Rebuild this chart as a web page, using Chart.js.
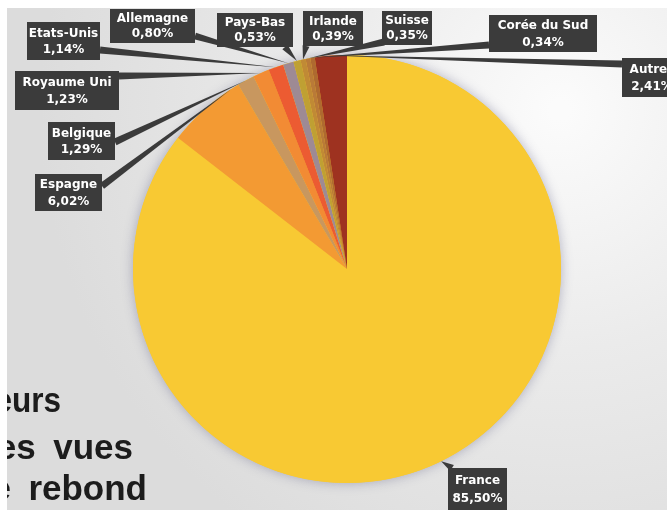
<!DOCTYPE html>
<html>
<head>
<meta charset="utf-8">
<script src="https://cdn.jsdelivr.net/npm/chart.js@4/dist/chart.umd.min.js"></script>
<style>
html, body { margin: 0; padding: 0; background: #ffffff; }
#canvas { display: block; }
</style>
</head>
<body>
<canvas id="canvas" width="667" height="510"></canvas>
<script>
var countries = ['France', 'Espagne', 'Belgique', 'Royaume Uni', 'Etats-Unis', 'Allemagne',
                 'Pays-Bas', 'Irlande', 'Suisse', 'Corée du Sud', 'Autres'];
var shares = [85.50, 6.02, 1.29, 1.23, 1.14, 0.80, 0.53, 0.39, 0.35, 0.34, 2.41];
var shareLabels = ['85,50%', '6,02%', '1,29%', '1,23%', '1,14%', '0,80%',
                   '0,53%', '0,39%', '0,35%', '0,34%', '2,41%'];
var sliceColors = ['#F8C933', '#F39A33', '#C8975F', '#F28B34', '#EC5B32', '#9E8A94',
                   '#BFA033', '#C08A35', '#B97A38', '#AE6A30', '#9E3220'];
var sideText = ['eurs', 'es\u2002vues', 'e\u2002rebond'];

// callout boxes: x, y, w, h, anchor of the leader, where on the slice it points (0..1)
var callouts = [
    {x: 448, y: 468, w: 59, h: 42, ax: 452, ay: 468, f: 0.5},
    {x: 35, y: 174, w: 67, h: 37, ax: 102, ay: 186, f: 0.9},
    {x: 48, y: 122, w: 67, h: 38, ax: 115, ay: 142, f: 0.5},
    {x: 15, y: 71, w: 104, h: 39, ax: 119, ay: 76, f: 0.5},
    {x: 27, y: 22, w: 73, h: 38, ax: 100, ay: 50, f: 0.5},
    {x: 110, y: 9, w: 85, h: 34, ax: 195, ay: 36, f: 0.5},
    {x: 217, y: 13, w: 76, h: 34, ax: 285, ay: 47, f: 0.5},
    {x: 303, y: 11, w: 60, h: 35, ax: 306, ay: 46, f: 0.5},
    {x: 382, y: 11, w: 50, h: 34, ax: 384, ay: 42, f: 0.5},
    {x: 489, y: 15, w: 108, h: 37, ax: 489, ay: 45, f: 0.5},
    {x: 622, y: 58, w: 60, h: 39, ax: 622, ay: 64, f: 0.5}
];

var backgroundPlugin = {
    id: 'backgroundPlugin',
    beforeDraw: function(chart) {
        var ctx = chart.ctx;
        ctx.save();
        var g = ctx.createRadialGradient(560, 110, 10, 560, 110, 520);
        g.addColorStop(0, '#fbfbfb');
        g.addColorStop(0.45, '#ebebeb');
        g.addColorStop(1, '#dcdcdc');
        ctx.fillStyle = g;
        ctx.fillRect(0, 0, chart.width, chart.height);
        ctx.fillStyle = '#ffffff';
        ctx.fillRect(0, 0, chart.width, 8);
        ctx.fillRect(0, 0, 7, chart.height);
        ctx.restore();
    },
    beforeDatasetsDraw: function(chart) {
        var arc = chart.getDatasetMeta(0).data[0];
        var ctx = chart.ctx;
        ctx.save();
        ctx.shadowColor = 'rgba(80, 80, 120, 0.4)';
        ctx.shadowBlur = 12;
        ctx.fillStyle = '#F8C933';
        ctx.beginPath();
        ctx.arc(arc.x, arc.y, arc.outerRadius, 0, Math.PI * 2);
        ctx.fill();
        ctx.restore();
    }
};

var calloutPlugin = {
    id: 'calloutPlugin',
    afterDatasetsDraw: function(chart) {
        var ctx = chart.ctx;
        var arcs = chart.getDatasetMeta(0).data;
        ctx.save();

        // leaders first, boxes on top
        for (var i = 0; i < callouts.length; i++) {
            var c = callouts[i];
            var a = arcs[i];
            var ang = a.startAngle + (a.endAngle - a.startAngle) * c.f;
            var tx = a.x + Math.cos(ang) * a.outerRadius;
            var ty = a.y + Math.sin(ang) * a.outerRadius;
            var dx = tx - c.ax, dy = ty - c.ay;
            var len = Math.sqrt(dx * dx + dy * dy);
            var nx = -dy / len * 3.5, ny = dx / len * 3.5;
            ctx.fillStyle = '#3b3b3b';
            ctx.beginPath();
            ctx.moveTo(c.ax + nx, c.ay + ny);
            ctx.lineTo(c.ax - nx, c.ay - ny);
            ctx.lineTo(tx, ty);
            ctx.closePath();
            ctx.fill();
        }

        ctx.textAlign = 'center';
        ctx.textBaseline = 'middle';
        ctx.font = 'bold 12px "DejaVu Sans"';
        for (i = 0; i < callouts.length; i++) {
            c = callouts[i];
            ctx.fillStyle = '#3b3b3b';
            ctx.fillRect(c.x, c.y, c.w, c.h);
            ctx.fillStyle = '#ffffff';
            ctx.fillText(countries[i], c.x + c.w / 2, c.y + c.h * 0.3);
            ctx.fillText(shareLabels[i], c.x + c.w / 2, c.y + c.h * 0.74);
        }

        // text cut off at the left edge
        ctx.fillStyle = '#1c1c1c';
        ctx.font = 'bold 35px "Liberation Sans"';
        ctx.textAlign = 'right';
        ctx.textBaseline = 'alphabetic';
        var rightEdges = [61, 133, 147];
        var baselines = [412, 459, 500];
        var squeeze = [0.9, 1, 1];
        for (i = 0; i < sideText.length; i++) {
            ctx.save();
            ctx.translate(rightEdges[i], baselines[i]);
            ctx.scale(squeeze[i], 1);
            ctx.fillText(sideText[i], 0, 0);
            ctx.restore();
        }
        ctx.fillStyle = '#ffffff';
        ctx.fillRect(0, 370, 7, 140);
        ctx.restore();
    }
};

var canvas = document.getElementById('canvas');
var chartData = {
    labels: countries,
    datasets: [
        {
            data: shares,
            backgroundColor: sliceColors,
            borderWidth: 0
        }
    ]
};

var dataChart = new Chart(canvas, {
    type: 'pie',
    data: chartData,
    options: {
        responsive: false,
        animation: false,
        layout: {padding: {left: 133, right: 106, top: 55, bottom: 27}},
        plugins: {
            legend: {display: false},
            tooltip: {enabled: false}
        }
    },
    plugins: [backgroundPlugin, calloutPlugin]
});
</script>
</body>
</html>
